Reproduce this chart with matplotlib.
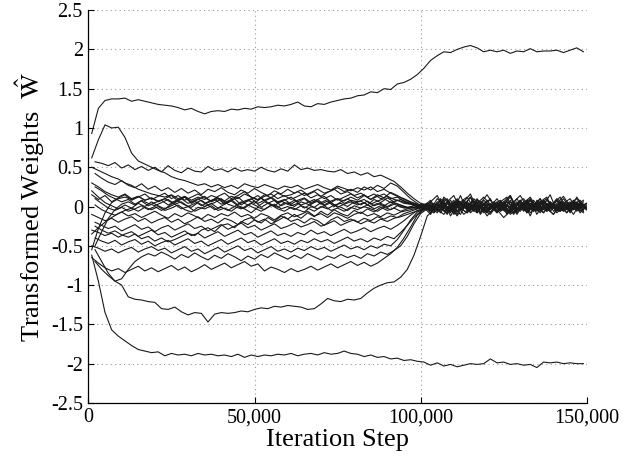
import numpy as np
import matplotlib
matplotlib.use("Agg")
import matplotlib.pyplot as plt

# iteration steps at which the weights are plotted (every 2,000 steps);
# half of the weights were logged on the odd thousands, half on the even ones
steps_a = np.arange(1000, 149001, 2000)
steps_b = np.arange(2000, 150001, 2000)

# transformed weights, in hundredths
w_top = [93, 125, 135, 137, 137, 138, 134, 136, 134, 132,
         130, 129, 128, 126, 123, 125, 121, 118, 121, 122,
         121, 124, 123, 125, 124, 127, 126, 127, 129, 128,
         130, 133, 128, 127, 131, 130, 133, 135, 137, 138,
         141, 142, 146, 145, 150, 149, 156, 158, 162, 168,
         176, 186, 192, 197, 196, 200, 203, 205, 202, 197,
         199, 197, 199, 195, 198, 197, 201, 197, 198, 198,
         199, 196, 199, 202, 197]
w_bottom = [-62, -95, -135, -157, -165, -171, -177, -182, -184, -186,
            -185, -190, -187, -189, -188, -190, -187, -189, -188, -190,
            -189, -191, -188, -192, -189, -191, -189, -190, -188, -189,
            -187, -190, -188, -187, -189, -186, -188, -187, -184, -187,
            -188, -191, -189, -192, -191, -194, -193, -196, -195, -197,
            -198, -202, -199, -203, -201, -204, -202, -200, -201, -200,
            -194, -199, -198, -201, -200, -202, -201, -205, -198, -199,
            -198, -200, -199, -200, -200]
w_peak = [62, 85, 104, 100, 101, 88, 68, 58, 54, 50,
          46, 43, 38, 35, 33, 30, 27, 29, 25, 28,
          24, 27, 23, 29, 26, 24, 28, 25, 22, 26,
          24, 27, 22, 25, 28, 24, 21, 26, 23, 20,
          24, 21, 25, 19, 22, 17, 13, 10, 6, 3,
          1, 8, -6, 12, 4, -10, 6, 16, -4, 2,
          10, -8, 4, 14, -2, 6, -12, 8, 2, 15,
          -6, 4, 10, -4, 6]
w_half = [57, 55, 52, 56, 49, 53, 47, 51, 46, 50,
          44, 52, 46, 43, 49, 45, 44, 51, 46, 48,
          44, 49, 45, 47, 45, 50, 46, 44, 48, 45,
          53, 47, 49, 46, 47, 45, 44, 47, 42, 44,
          40, 43, 38, 40, 36, 32, 25, 17, 10, 4,
          2, -4, 10, 0, -8, 6, 12, -2, 4, 15,
          2, 8, -4, 6, 14, 0, -6, 4, 10, -2,
          4, -8, 6, 2, -4]
w_e = [50, 46, 42, 38, 35, 30, 27, 22, 19, 16,
       14, 12, 15, 10, 13, 8, 12, 9, 14, 11,
       7, 13, 10, 16, 12, 9, 15, 11, 17, 13,
       15, 19, 14, 18, 22, 17, 20, 24, 19, 22,
       18, 25, 21, 27, 23, 30, 26, 18, 10, 4,
       -2, 6, 14, -2, 8, -6, 2, 12, -8, 4,
       0, 10, -4, 8, -10, 4, 12, -2, 6, -6,
       8, 2, -4, 12, 0]
w_f = [42, 36, 31, 28, 33, 27, 24, 29, 22, 26,
       20, 24, 18, 23, 17, 21, 15, 22, 19, 24,
       18, 15, 21, 17, 23, 18, 14, 20, 16, 22,
       17, 21, 15, 19, 13, 18, 22, 16, 19, 14,
       17, 12, 16, 10, 13, 9, 7, 4, 2, 0,
       3, -8, 2, 10, -4, 14, -6, 4, -2, 8,
       -4, 6, 12, -8, 2, 8, -2, 10, -6, 4,
       12, -2, 6, -6, 2]
w_g = [30, 25, 19, 15, 12, 16, 10, 13, 8, 11,
       6, 10, 14, 7, 12, 4, 9, 13, 6, 10,
       3, 8, 12, 5, 9, 14, 7, 11, 4, 8,
       12, 6, 10, 3, 9, 13, 5, 10, 7, 12,
       8, 14, 9, 15, 11, 18, 14, 9, 5, 2,
       -3, 4, -2, 8, -12, 2, 6, -4, 10, -2,
       4, -6, 2, 12, -4, 0, 8, -10, 4, 2,
       -2, 6, -8, 4, 2]
w_h = [25, 20, 14, 10, 6, 9, 3, 7, 1, 5,
       8, 2, 6, 10, 4, 7, 1, 5, 9, 3,
       6, 10, 2, 8, 4, 11, 5, 1, 7, 3,
       8, 2, 5, 9, 3, 7, 0, 6, 10, 4,
       7, 2, 9, 5, 11, 6, 9, 5, 2, 1,
       4, 0, -6, 6, 14, -4, 2, 8, -8, 4,
       -2, 6, -10, 4, 0, 8, -4, 6, 12, -6,
       2, -4, 8, 0, 4]
w_i = [20, 12, 5, 1, -3, 2, -2, 4, 0, 6,
       1, -3, 3, 7, 2, -1, 5, 0, 4, -2,
       3, 7, 1, -2, 4, 0, 6, 2, -1, 5,
       1, 4, -2, 3, 7, 1, 5, -1, 3, 6,
       2, 5, 0, 4, 1, 6, 3, 0, -2, -1,
       2, -8, 6, 2, -4, 10, 0, -6, 8, 4,
       -8, 2, 6, -2, 10, -4, 4, 0, -8, 6,
       0, 10, -2, 4, -6]
w_j = [10, 4, -2, -5, -1, -6, -3, 1, -4, 0,
       -5, -1, 3, -3, 0, -6, -2, 2, -4, -1,
       -5, 0, -3, 2, -2, -6, -1, 3, -3, 0,
       -4, 1, -2, -6, 0, -3, 2, -1, -5, 1,
       -2, 2, -3, 1, -1, 3, 0, -2, 1, -1,
       -3, 4, 0, -10, 6, -2, -8, 4, 0, -4,
       6, -6, 2, -4, 8, -8, 0, 4, -2, -10,
       4, -4, 2, 8, -2]
w_k = [-55, -28, -8, 5, 10, 12, 9, 13, 8, 11,
       7, 10, 5, 9, 12, 6, 10, 4, 8, 11,
       5, 9, 2, 7, 10, 4, 8, 12, 6, 9,
       3, 8, 11, 5, 9, 2, 7, 10, 4, 8,
       6, 9, 3, 7, 10, 5, 8, 4, 3, 1,
       0, 6, -4, 10, 2, -6, 8, -2, 4, 12,
       2, -4, -14, -6, 4, 10, -2, 6, -4, 0,
       8, -6, 4, 10, -2]
w_l = [-50, -32, -15, -4, 3, 6, 2, 8, 4, 1,
       5, 9, 3, 6, 0, 4, 8, 2, 5, 10,
       3, 0, 6, 2, 7, -1, 4, 8, 1, 5,
       0, 6, 3, -1, 5, 9, 2, 4, 0, 6,
       2, 7, 1, 4, 0, 5, 2, -1, 1, 0,
       2, -2, 8, -6, 0, 6, -4, 10, 2, -8,
       4, 0, 6, -2, 8, -4, 2, 10, -6, 0,
       -4, 6, 0, -2, 4]
w_m = [-35, -27, -20, -14, -9, -5, -2, -6, -1, -4,
       0, -5, -2, 2, -4, -7, -1, -3, 1, -5,
       -2, -6, 0, -3, -8, -1, -4, 2, -3, -6,
       -1, -4, -7, 0, -3, 1, -5, -2, -6, -1,
       -4, 0, -3, -6, -1, -4, 1, -2, -1, -2,
       1, -6, 4, 0, -8, 6, -2, 2, -6, 8,
       0, -8, 4, -2, 6, -6, 2, -4, 8, -2,
       2, -6, 4, 0, -8]
w_n = [2, -4, -8, -11, -7, -12, -9, -14, -10, -6,
       -11, -15, -9, -13, -8, -12, -16, -10, -14, -9,
       -12, -7, -13, -10, -15, -9, -12, -17, -11, -8,
       -13, -10, -6, -12, -9, -14, -8, -11, -15, -10,
       -7, -12, -9, -13, -8, -11, -7, -5, -3, -2,
       -4, 0, -4, 6, -10, -2, 4, -6, 2, -12,
       -2, 6, -4, -8, 2, -6, 8, -4, 0, 4,
       -6, 2, -10, 4, -2]
w_o = [-10, -14, -18, -15, -20, -16, -13, -19, -15, -21,
       -17, -14, -20, -16, -22, -18, -13, -19, -16, -21,
       -15, -18, -23, -17, -14, -20, -16, -22, -18, -13,
       -19, -16, -21, -15, -18, -24, -17, -13, -19, -16,
       -20, -15, -18, -13, -16, -12, -14, -9, -6, -3,
       -1, -10, 4, -6, 0, -12, 2, -4, 6, -8,
       0, -6, 4, -10, -2, 4, -8, 2, -4, 6,
       -8, 0, -4, 2, -6]
w_p = [-20, -24, -28, -25, -31, -27, -23, -29, -26, -32,
       -27, -24, -30, -26, -22, -28, -25, -31, -27, -23,
       -29, -25, -21, -27, -24, -30, -26, -22, -28, -25,
       -21, -26, -23, -19, -25, -22, -18, -24, -20, -17,
       -22, -18, -21, -16, -19, -15, -13, -10, -7, -4,
       -2, 2, -8, 4, -2, -10, 6, -4, 0, -6,
       4, -2, -8, 2, -4, 8, -6, 0, -2, -10,
       2, -4, 6, -8, 0]
w_q = [-30, -33, -37, -34, -39, -35, -32, -38, -34, -30,
       -36, -33, -39, -35, -31, -37, -34, -40, -36, -32,
       -38, -34, -30, -36, -33, -39, -35, -31, -37, -34,
       -38, -33, -36, -30, -35, -32, -37, -33, -29, -34,
       -31, -27, -32, -28, -25, -29, -24, -18, -11, -5,
       -3, 2, -4, -10, 4, -2, 6, -8, 0, -4,
       -10, 2, -2, 6, -6, 0, -4, 4, -8, 2,
       -2, 4, -6, 0, 2]
w_r = [-40, -44, -47, -43, -49, -45, -42, -48, -44, -50,
       -46, -43, -49, -45, -41, -47, -44, -50, -46, -42,
       -48, -44, -40, -46, -43, -49, -45, -41, -47, -44,
       -48, -43, -46, -41, -45, -42, -47, -43, -39, -44,
       -41, -45, -40, -43, -38, -41, -33, -24, -14, -6,
       -2, -8, 2, -6, 4, -2, -8, 0, 6, -4,
       2, -6, 0, -2, 4, -8, 2, 6, -4, 0,
       -6, 2, -2, 4, -4]
w_s = [-50, -53, -57, -54, -59, -55, -52, -58, -54, -51,
       -56, -53, -59, -55, -51, -57, -54, -60, -56, -52,
       -58, -54, -50, -56, -53, -59, -55, -51, -57, -54,
       -58, -53, -56, -51, -55, -52, -57, -53, -49, -54,
       -51, -55, -50, -53, -48, -50, -42, -30, -17, -7,
       -3, 0, -8, 4, -4, 2, -10, -2, 4, -6,
       0, 6, -4, -8, 2, -2, 4, -6, 0, 4,
       -4, 0, 6, -6, 2]
w_t = [-55, -70, -85, -95, -92, -80, -70, -64, -60, -63,
       -58, -62, -67, -61, -65, -59, -64, -68, -62, -66,
       -60, -64, -69, -63, -67, -61, -65, -59, -63, -67,
       -62, -66, -60, -64, -68, -63, -66, -61, -65, -62,
       -66, -60, -63, -58, -61, -56, -50, -38, -22, -9,
       -3, 4, -2, -8, 0, 6, -4, 2, -6, 0,
       4, -4, 2, -10, 0, 6, -2, -6, 4, -2,
       0, -8, 2, 4, -4]
w_u = [-65, -72, -78, -82, -79, -84, -80, -76, -82, -78,
       -83, -79, -75, -81, -77, -83, -79, -74, -80, -76,
       -72, -78, -74, -70, -76, -73, -82, -77, -80, -84,
       -79, -83, -80, -76, -81, -77, -73, -78, -74, -70,
       -75, -71, -76, -72, -66, -60, -52, -40, -26, -11,
       -4, 2, -4, 4, -6, 0, 6, -2, -8, 2,
       -4, 4, 0, -6, 2, -2, 8, -4, 0, -6,
       4, 13, 0, 6, -4]
w_v = [-70, -80, -88, -95, -100, -115, -118, -119, -121, -122,
       -130, -131, -128, -134, -138, -135, -136, -147, -137, -135,
       -136, -135, -133, -134, -131, -129, -130, -127, -128, -126,
       -127, -128, -131, -130, -124, -117, -120, -121, -118, -119,
       -117, -110, -104, -100, -97, -96, -90, -80, -62, -38,
       -12, -4, 4, -6, 2, -2, 6, -4, 0, -8,
       2, -4, 6, -2, -6, 4, 0, -4, 8, -2,
       -6, 2, -4, 0, 4]
w_w = [15, 9, 14, 6, 11, 15, 8, 12, 16, 9,
       13, 17, 10, 14, 8, 12, 16, 11, 7, 13,
       17, 10, 14, 19, 12, 8, 13, 16, 10, 14,
       9, 13, 17, 11, 15, 10, 14, 8, 12, 16,
       11, 15, 9, 13, 16, 10, 12, 7, 4, 2,
       3, -4, 10, 2, -6, 8, 0, 12, -4, 4,
       8, -2, 6, 14, -8, 2, 10, -4, 6, 0,
       10, 4, -6, 2, 8]
w_x = [-25, -30, -34, -31, -36, -39, -35, -41, -38, -44,
       -40, -45, -42, -38, -34, -37, -30, -27, -32, -24,
       -22, -27, -19, -23, -17, -21, -14, -19, -12, -16,
       -10, -15, -8, -13, -6, -11, -4, -9, -12, -5,
       -9, -3, -7, -1, -5, -2, -6, -3, -1, 0,
       2, -6, 2, -2, 8, -4, 0, 6, -10, 2,
       -2, 4, -6, 0, 6, -4, 2, -8, 4, -2,
       6, 0, -4, 4, -2]

series_a = [w_top, w_bottom, w_peak, w_e, w_g, w_i, w_k, w_m, w_o, w_q,
            w_s, w_u, w_w]
series_b = [w_half, w_f, w_h, w_j, w_l, w_n, w_p, w_r, w_t, w_v, w_x]

y_ticks = [-2.5, -2, -1.5, -1, -0.5, 0, 0.5, 1, 1.5, 2, 2.5]
y_labels = ["-2.5", "-2", "-1.5", "-1", "-0.5", "0", "0.5", "1", "1.5", "2", "2.5"]
x_ticks = [0, 50000, 100000, 150000]
x_labels = ["0", "50,000", "100,000", "150,000"]

plt.rcParams["font.family"] = ["Liberation Serif", "DejaVu Serif"]
plt.rcParams["mathtext.fontset"] = "stix"

fig = plt.figure(figsize=(6.36, 4.61), dpi=100)
ax = fig.add_axes([0.139, 0.126, 0.7835, 0.852])

for w in series_a:
    ax.plot(steps_a, np.array(w) / 100.0, color="#1a1a1a", linewidth=0.8)
for w in series_b:
    ax.plot(steps_b, np.array(w) / 100.0, color="#1a1a1a", linewidth=0.8)

ax.set_xlim(0, 150000)
ax.set_ylim(-2.5, 2.5)
ax.set_xticks(x_ticks)
ax.set_xticklabels(x_labels)
ax.set_yticks(y_ticks)
ax.set_yticklabels(y_labels)
ax.tick_params(direction="in", labelsize=14.5, length=4, width=0.8,
               top=False, right=False, pad=4)
ax.grid(True, linestyle=(0, (1, 3)), color="#999999", linewidth=0.8)
ax.spines["top"].set_visible(False)
ax.spines["right"].set_visible(False)
for side in ("left", "bottom"):
    ax.spines[side].set_linewidth(0.9)

ax.set_xlabel("Iteration Step", fontsize=19, labelpad=1)
ax.set_ylabel(r"Transformed Weights  $\hat{\mathrm{W}}$", fontsize=19, labelpad=3)

fig.savefig("out.png", dpi=100)
